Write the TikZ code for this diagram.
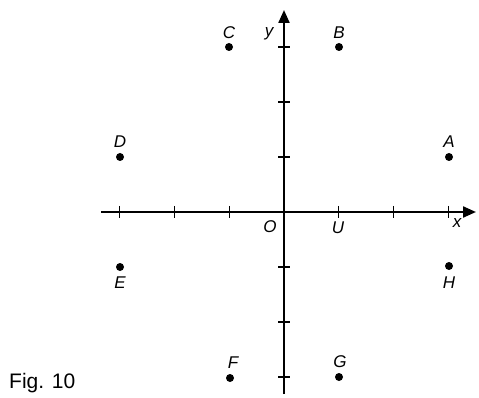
\documentclass[tikz,border=0pt]{standalone}
\usepackage{fontspec}
\setmainfont{Liberation Sans}
\usetikzlibrary{arrows.meta}
\begin{document}
\begin{tikzpicture}[x=1pt,y=-1pt,
  axis/.style={line width=2.2pt,-{Triangle[length=13pt,width=11pt]}},
  tick/.style={line width=1.2pt},
  pt/.style={circle,fill=black,inner sep=0pt,minimum size=8pt},
  lab/.style={font=\fontsize{17}{17}\selectfont\itshape,inner sep=0pt}]
\useasboundingbox (0,0) rectangle (479,398);
% axes
\coordinate (xl) at (101,212);
\coordinate (xr) at (476,212);
\coordinate (yb) at (284,394);
\coordinate (yt) at (284,10);
\draw[axis] (xl) -- (xr);
\draw[axis] (yb) -- (yt);
% ticks
\foreach \i in {-3,-2,-1,1,2,3}{
  \draw[tick] (284+54.8*\i,206) -- (284+54.8*\i,218);
  \draw[tick] (278,212-55*\i) -- (290,212-55*\i);
}
% points
\node[pt] (A) at (449,157) {};
\node[pt] (B) at (339,47) {};
\node[pt] (C) at (229,47) {};
\node[pt] (D) at (120,157) {};
\node[pt] (E) at (120,267) {};
\node[pt] (F) at (230,378) {};
\node[pt] (G) at (339,377) {};
\node[pt] (H) at (449,266) {};
\node[lab] (lA) at (449,142) {A};
\node[lab] (lB) at (339,33) {B};
\node[lab] (lC) at (229,33) {C};
\node[lab] (lD) at (120,142) {D};
\node[lab] (lE) at (120,283) {E};
\node[lab] (lF) at (233,363) {F};
\node[lab] (lG) at (340,362) {G};
\node[lab] (lH) at (449,283) {H};
\node[lab] (ly) at (269,34) {y};
\node[lab] (lx) at (457,223) {x};
\node[lab] (lO) at (270,227) {O};
\node[lab] (lU) at (338,228) {U};
\node[font=\fontsize{21}{21}\selectfont,anchor=west,inner sep=0pt] (fig) at (9,383) {Fig. 10};
\end{tikzpicture}
\end{document}
